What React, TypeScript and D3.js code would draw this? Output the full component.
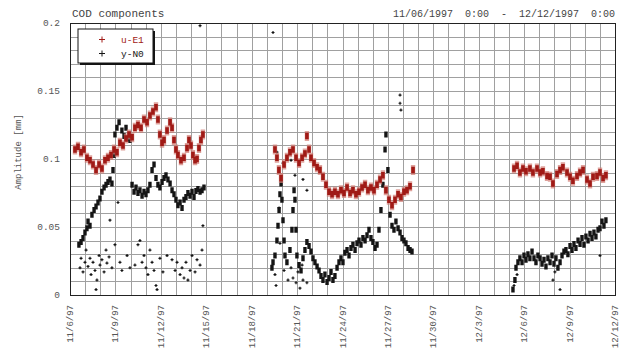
import React from "react";
import * as d3 from "d3";

// Day offsets are measured from 11/06/1997 0:00.
const tickDays = [0, 3, 6, 9, 12, 15, 18, 21, 24, 27, 30, 33, 36];
const tickLabels = [
  "11/6/97", "11/9/97", "11/12/97", "11/15/97", "11/18/97", "11/21/97", "11/24/97",
  "11/27/97", "11/30/97", "12/3/97", "12/6/97", "12/9/97", "12/12/97",
];
const yTicks = [0, 0.05, 0.1, 0.15, 0.2];
const yTickLabels = ["0", "0.05", "0.1", "0.15", "0.2"];

// u-E1 component, three observation windows
const eastA: [number, number][] = [
  [0.33, 0.107], [0.53, 0.109], [0.73, 0.105], [0.92, 0.107], [1.12, 0.101], [1.32, 0.099],
  [1.52, 0.096], [1.72, 0.092], [1.92, 0.096], [2.11, 0.093], [2.31, 0.099], [2.51, 0.101],
  [2.71, 0.103], [2.91, 0.107], [3.10, 0.105], [3.30, 0.112], [3.50, 0.110], [3.70, 0.115],
  [3.90, 0.118], [4.10, 0.116], [4.29, 0.123], [4.49, 0.125], [4.69, 0.123], [4.89, 0.129],
  [5.09, 0.127], [5.28, 0.132], [5.48, 0.135], [5.68, 0.138], [5.81, 0.129], [5.94, 0.118],
  [6.08, 0.112], [6.21, 0.114], [6.41, 0.121], [6.61, 0.127], [6.74, 0.123], [6.87, 0.114],
  [7.00, 0.107], [7.13, 0.103], [7.33, 0.099], [7.53, 0.101], [7.73, 0.108], [7.86, 0.114],
  [7.99, 0.110], [8.12, 0.103], [8.26, 0.099], [8.39, 0.100], [8.52, 0.108], [8.65, 0.114],
  [8.78, 0.118],
];
const eastB: [number, number][] = [
  [13.54, 0.107], [13.67, 0.101], [13.80, 0.092], [13.94, 0.086], [14.14, 0.096], [14.33, 0.101],
  [14.53, 0.105], [14.73, 0.107], [14.93, 0.101], [15.13, 0.097], [15.33, 0.101], [15.52, 0.104],
  [15.65, 0.117], [15.79, 0.107], [15.92, 0.101], [16.12, 0.097], [16.32, 0.094], [16.51, 0.092],
  [16.71, 0.087], [16.91, 0.081], [17.11, 0.076], [17.31, 0.074], [17.50, 0.076], [17.70, 0.074],
  [17.90, 0.077], [18.10, 0.075], [18.30, 0.079], [18.50, 0.075], [18.69, 0.077], [18.89, 0.074],
  [19.09, 0.076], [19.29, 0.079], [19.49, 0.081], [19.68, 0.077], [19.88, 0.079], [20.08, 0.077],
  [20.28, 0.081], [20.48, 0.085], [20.67, 0.088], [20.87, 0.077], [21.07, 0.070], [21.27, 0.066],
  [21.47, 0.070], [21.67, 0.074], [21.86, 0.072], [22.06, 0.076], [22.26, 0.077], [22.46, 0.080],
  [22.66, 0.092],
];
const eastC: [number, number][] = [
  [29.33, 0.093], [29.53, 0.095], [29.72, 0.090], [29.92, 0.093], [30.12, 0.091], [30.38, 0.093],
  [30.58, 0.090], [30.85, 0.093], [31.05, 0.090], [31.24, 0.091], [31.51, 0.0875], [31.71, 0.087],
  [31.90, 0.082], [32.17, 0.089], [32.37, 0.092], [32.56, 0.094], [32.83, 0.090], [33.03, 0.087],
  [33.22, 0.084], [33.49, 0.0875], [33.69, 0.090], [33.89, 0.092], [34.15, 0.085], [34.35, 0.082],
  [34.55, 0.087], [34.81, 0.0875], [35.01, 0.090], [35.21, 0.086], [35.40, 0.088],
];

// y-N0 component: continuous traces
const northA: [number, number][] = [
  [0.59, 0.037], [0.73, 0.039], [0.86, 0.042], [0.99, 0.046], [1.12, 0.049], [1.19, 0.054],
  [1.32, 0.051], [1.45, 0.059], [1.59, 0.0625], [1.72, 0.065], [1.85, 0.068], [1.98, 0.071],
  [2.11, 0.076], [2.25, 0.079], [2.38, 0.081], [2.51, 0.083], [2.64, 0.085], [2.77, 0.082],
  [2.84, 0.092], [2.91, 0.103], [2.97, 0.118], [3.10, 0.123], [3.24, 0.127], [3.43, 0.121],
  [3.57, 0.117], [3.70, 0.123], [3.83, 0.115], [3.96, 0.114], [4.10, 0.081], [4.23, 0.076],
  [4.36, 0.079], [4.49, 0.075], [4.62, 0.077], [4.76, 0.073], [4.89, 0.076], [5.02, 0.074],
  [5.15, 0.077], [5.28, 0.081], [5.42, 0.092], [5.55, 0.096], [5.68, 0.086], [5.81, 0.081],
  [5.94, 0.079], [6.08, 0.083], [6.21, 0.086], [6.34, 0.088], [6.47, 0.085], [6.61, 0.082],
  [6.74, 0.077], [6.87, 0.074], [7.00, 0.070], [7.13, 0.066], [7.27, 0.068], [7.40, 0.064],
  [7.53, 0.070], [7.66, 0.072], [7.79, 0.075], [7.93, 0.073], [8.06, 0.076], [8.19, 0.072],
  [8.32, 0.0765], [8.45, 0.078], [8.59, 0.076], [8.72, 0.077], [8.85, 0.079],
];
const northB: [number, number][] = [
  [13.34, 0.020], [13.41, 0.024], [13.54, 0.029], [13.67, 0.040], [13.74, 0.051], [13.81, 0.0625],
  [13.87, 0.074], [13.94, 0.082], [14.00, 0.070], [14.07, 0.055], [14.14, 0.040], [14.20, 0.029],
  [14.33, 0.024], [14.53, 0.033], [14.66, 0.048], [14.73, 0.0625], [14.80, 0.077], [14.86, 0.070],
  [14.93, 0.048], [14.99, 0.029], [15.13, 0.022], [15.26, 0.018], [15.39, 0.027], [15.52, 0.033],
  [15.65, 0.039], [15.79, 0.036], [15.92, 0.032], [16.05, 0.027], [16.18, 0.024], [16.32, 0.021],
  [16.45, 0.018], [16.58, 0.014], [16.71, 0.011], [16.84, 0.015], [16.98, 0.0096], [17.11, 0.0125],
  [17.24, 0.017], [17.37, 0.011], [17.50, 0.014], [17.64, 0.020], [17.77, 0.024], [17.90, 0.027],
  [18.03, 0.024], [18.16, 0.031], [18.30, 0.033], [18.43, 0.029], [18.56, 0.0345], [18.69, 0.037],
  [18.83, 0.033], [18.96, 0.038], [19.09, 0.040], [19.22, 0.037], [19.35, 0.042], [19.49, 0.040],
  [19.62, 0.044], [19.75, 0.048], [19.88, 0.042], [20.01, 0.039], [20.15, 0.0345], [20.28, 0.037],
  [20.41, 0.048], [20.54, 0.0625], [20.67, 0.081], [20.81, 0.107], [20.87, 0.118], [21.00, 0.092],
  [21.14, 0.059], [21.27, 0.051], [21.40, 0.048], [21.53, 0.054], [21.67, 0.049], [21.80, 0.046],
  [21.93, 0.042], [22.06, 0.040], [22.19, 0.038], [22.33, 0.0345], [22.46, 0.033], [22.59, 0.032],
];
const northC: [number, number][] = [
  [29.26, 0.004], [29.39, 0.011], [29.46, 0.020], [29.59, 0.024], [29.72, 0.027], [29.86, 0.024],
  [29.99, 0.029], [30.12, 0.026], [30.25, 0.030], [30.38, 0.027], [30.52, 0.032], [30.65, 0.027],
  [30.78, 0.024], [30.91, 0.029], [31.05, 0.027], [31.18, 0.023], [31.31, 0.026], [31.44, 0.021],
  [31.57, 0.027], [31.71, 0.024], [31.84, 0.029], [31.97, 0.023], [32.10, 0.027], [32.23, 0.020],
  [32.37, 0.024], [32.50, 0.029], [32.63, 0.032], [32.76, 0.033], [32.89, 0.030], [33.03, 0.036],
  [33.16, 0.033], [33.29, 0.0375], [33.42, 0.0345], [33.56, 0.040], [33.69, 0.0375], [33.82, 0.042],
  [33.95, 0.037], [34.08, 0.043], [34.22, 0.040], [34.35, 0.045], [34.48, 0.042], [34.61, 0.046],
  [34.74, 0.043], [34.88, 0.048], [35.01, 0.049], [35.14, 0.054], [35.27, 0.051], [35.40, 0.055],
];

// y-N0 component: isolated samples
const northScatter: [number, number][] = [
  [0.66, 0.020], [0.73, 0.027], [0.86, 0.017], [0.99, 0.024], [1.06, 0.033], [1.19, 0.021],
  [1.32, 0.027], [1.39, 0.015], [1.52, 0.024], [1.65, 0.018], [1.78, 0.011], [1.92, 0.029],
  [1.98, 0.022], [2.11, 0.026], [2.25, 0.017], [2.38, 0.033], [2.44, 0.0235], [2.58, 0.028],
  [2.64, 0.055], [2.77, 0.020], [2.97, 0.037], [3.17, 0.068], [3.30, 0.024], [3.43, 0.018],
  [3.77, 0.029], [3.96, 0.020], [4.29, 0.022], [4.49, 0.037], [4.62, 0.040], [4.76, 0.024],
  [4.89, 0.029], [5.02, 0.020], [5.15, 0.015], [5.28, 0.033], [5.42, 0.024], [5.55, 0.018],
  [5.68, 0.007], [5.75, 0.004], [5.94, 0.027], [6.14, 0.017], [6.41, 0.029], [6.74, 0.026],
  [6.94, 0.018], [7.07, 0.024], [7.27, 0.015], [7.40, 0.020], [7.53, 0.0125], [7.66, 0.024],
  [7.79, 0.011], [7.93, 0.018], [8.06, 0.029], [8.26, 0.017], [8.39, 0.026], [8.59, 0.022],
  [8.72, 0.033], [8.78, 0.051], [1.72, 0.004], [8.59, 0.198],
  [13.54, 0.015], [13.61, 0.007], [14.14, 0.018], [14.40, 0.011], [14.60, 0.020], [14.73, 0.0125],
  [14.93, 0.009], [15.06, 0.017], [15.19, 0.005], [15.33, 0.022], [15.39, 0.085], [14.60, 0.099],
  [14.86, 0.088], [14.07, 0.097], [13.67, 0.105], [13.81, 0.064], [13.87, 0.038], [15.65, 0.077],
  [15.39, 0.011], [15.65, 0.009], [13.41, 0.193], [21.80, 0.147], [21.80, 0.141], [21.86, 0.136],
  [29.33, 0.007], [29.53, 0.015], [31.90, 0.011], [32.03, 0.017], [32.37, 0.004], [35.01, 0.029],
];

const eastTrace = [...eastA, ...eastB, ...eastC];
const northTrace = [...northA, ...northB, ...northC];

const W = 627;
const H = 360;
const M = { left: 70, right: 615, top: 23, bottom: 295 };
const MONO = "'Liberation Mono', 'DejaVu Sans Mono', monospace";
const RED = "#a01a16";
const RED_EDGE = "#d27a72";
const BLACK = "#141414";

const x = d3.scaleLinear().domain([0, 36]).range([M.left, M.right]);
const y = d3.scaleLinear().domain([0, 0.2]).range([M.bottom, M.top]);

// Densely packed samples: each one drawn as a small block so neighbours merge into a band.
function blocks(pts: [number, number][], w: number, h: number): string {
  const p = d3.path();
  for (const [d, v] of pts) {
    p.rect(x(d) - w / 2, y(v) - h / 2, w, h);
  }
  return p.toString();
}

function crosses(pts: [number, number][], s: number): string {
  const p = d3.path();
  for (const [d, v] of pts) {
    const cx = x(d);
    const cy = y(v);
    p.moveTo(cx - s, cy);
    p.lineTo(cx + s, cy);
    p.moveTo(cx, cy - s);
    p.lineTo(cx, cy + s);
  }
  return p.toString();
}

export default function App() {
  const dayLines = d3.range(0, 37);
  const valueLines = d3.range(0, 21).map((i) => i * 0.01);
  return (
    <svg width={W} height={H} style={{ display: "block", position: "absolute", left: 0, top: 0, background: "#fff" }}>
      <rect width={W} height={H} fill="#fff" />
      {/* grid */}
      <g stroke="#a0a0a0" strokeWidth={1}>
        {dayLines.map((d) => (
          <line key={"v" + d} x1={Math.round(x(d)) + 0.5} x2={Math.round(x(d)) + 0.5} y1={M.top} y2={M.bottom} />
        ))}
        {valueLines.map((v, i) => (
          <line key={"h" + i} x1={M.left} x2={M.right} y1={Math.round(y(v)) + 0.5} y2={Math.round(y(v)) + 0.5} />
        ))}
      </g>
      <rect x={M.left + 0.5} y={M.top + 0.5} width={M.right - M.left} height={M.bottom - M.top} fill="none" stroke="#222" strokeWidth={1} />

      {/* data */}
      <path d={crosses(northScatter, 1.5)} stroke={BLACK} strokeWidth={1.2} fill="none" />
      <path d={blocks(northTrace, 3.4, 6)} fill={BLACK} />
      <path d={blocks(eastTrace, 4.4, 10)} fill={RED_EDGE} opacity={0.7} />
      <path d={blocks(eastTrace, 3.6, 6.5)} fill={RED} />

      {/* y axis */}
      {yTicks.map((v, i) => (
        <text key={"yt" + i} x={60} y={y(v) + 3} textAnchor="end" fontFamily={MONO} fontSize={9.5} fill="#555">
          {yTickLabels[i]}
        </text>
      ))}
      <text transform={`translate(21,${(M.top + M.bottom) / 2 - 7}) rotate(-90)`} textAnchor="middle" fontFamily={MONO} fontSize={9} fill="#555">
        Amplitude [mm]
      </text>

      {/* x axis */}
      {tickDays.map((d, i) => (
        <text key={"xt" + i} transform={`translate(${x(d) + 3},305) rotate(-90)`} textAnchor="end" fontFamily={MONO} fontSize={9} fill="#555">
          {tickLabels[i]}
        </text>
      ))}

      {/* titles */}
      <text x={72} y={17} fontFamily={MONO} fontSize={11} fill="#444">COD components</text>
      <text x={M.right} y={17} textAnchor="end" fontFamily={MONO} fontSize={10} fill="#444" xmlSpace="preserve">
        11/06/1997  0:00  -  12/12/1997  0:00
      </text>

      {/* legend */}
      <rect x={80} y={31} width={75} height={34} fill={BLACK} />
      <rect x={78} y={29} width={75} height={34} fill="#fff" stroke={BLACK} strokeWidth={1} />
      <path d="M99,39.5h6M102,36.5v6" stroke={RED} strokeWidth={1} />
      <text x={121} y={43} fontFamily={MONO} fontSize={9.5} fill={RED}>u-E1</text>
      <path d="M99,53.5h6M102,50.5v6" stroke={BLACK} strokeWidth={1} />
      <text x={121} y={57} fontFamily={MONO} fontSize={9.5} fill={BLACK}>y-N0</text>
    </svg>
  );
}
